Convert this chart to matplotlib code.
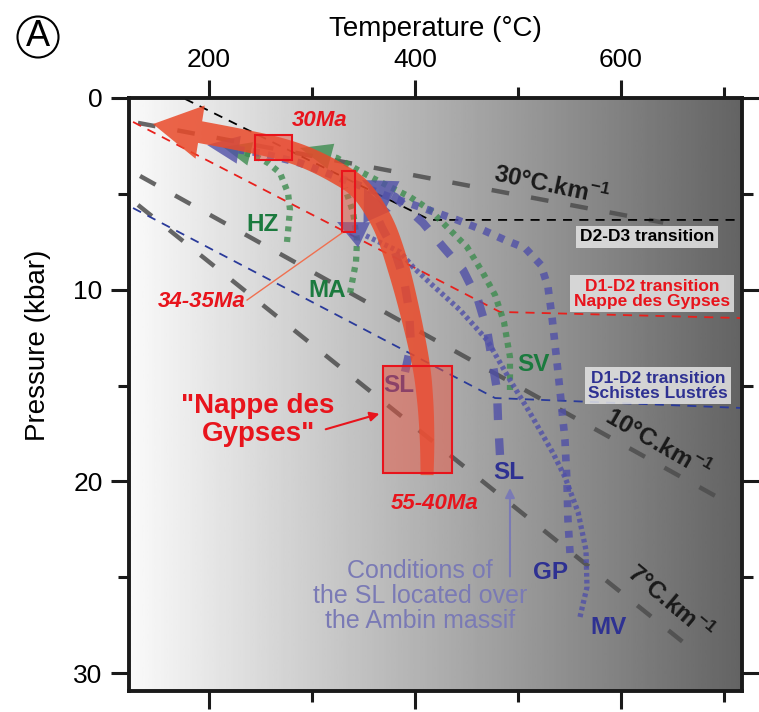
import numpy as np
import matplotlib
matplotlib.use("Agg")
import matplotlib.pyplot as plt
from matplotlib.patches import Polygon, Rectangle, Ellipse

plt.rcParams['font.family'] = ['Liberation Sans', 'DejaVu Sans']
plt.rcParams['mathtext.fontset'] = 'custom'
plt.rcParams['mathtext.rm'] = 'Liberation Sans'
plt.rcParams['mathtext.bf'] = 'Liberation Sans:bold'

# ---- values: temperature (degC), pressure (kbar) ----
geo_30_T = [131, 641]
geo_30_P = [1.3, 6.5]
geo_10_T = [133, 693]
geo_10_P = [4.07, 20.8]
geo_7_T = [131, 670]
geo_7_P = [5.58, 28.8]

# deformation transitions
d2d3_T = [176.7, 414.6, 717.5]
d2d3_P = [0.05, 6.36, 6.36]
d1d2_ng_T = [126.2, 482.5, 717.5]
d1d2_ng_P = [1.25, 11.16, 11.48]
d1d2_sl_T = [126.2, 477.7, 717.5]
d1d2_sl_P = [5.74, 15.65, 16.17]

# "Nappe des Gypses" P-T path, from peak to arrow tip
ng_T = [411.7, 411.7, 409.8, 405.0, 392.2, 378.6, 366.0, 346.6, 324.3, 295.2, 266.1, 231.0, 191.3, 145.6]
ng_P = [19.67, 17.84, 15.75, 13.67, 10.54, 7.93, 6.26, 4.75, 3.91, 3.13, 2.61, 2.19, 1.78, 1.36]

# other units (last point = arrow tip)
hz_T = [275.7, 278.6, 276.7, 268.9, 257.3, 246.6, 233.0, 213.6]
hz_P = [7.51, 5.84, 4.96, 3.91, 3.39, 3.08, 2.82, 2.56]
ma_T = [336.9, 342.7, 343.7, 339.8, 332.0]
ma_P = [10.17, 8.55, 7.41, 5.95, 4.69]
sv_T = [492.2, 492.2, 486.4, 477.7, 466.0, 450.5, 434.0, 414.6, 395.1, 375.7, 349.5, 324.3, 288.3]
sv_P = [15.23, 13.51, 11.69, 10.28, 9.13, 7.77, 6.89, 5.84, 5.16, 4.64, 3.91, 3.13, 2.61]
sl_amb_T = [482.5, 480.6, 479.6, 474.8, 469.9, 461.2, 446.6, 427.2, 407.8, 380.6, 348.5]
sl_amb_P = [18.62, 16.80, 15.23, 13.67, 12.10, 10.54, 8.97, 7.77, 6.52, 5.16, 4.28]
sl_ng_T = [390.3, 396.1, 394.2, 389.3, 380.6, 368.0, 350.5]
sl_ng_P = [14.29, 12.88, 11.06, 9.49, 8.03, 6.78, 4.69]
gp_T = [550.5, 548.5, 547.6, 545.6, 541.7, 537.9, 533.0, 529.1, 522.3, 506.8, 487.4, 466.0, 440.8,
        404.9, 372.8, 336.9, 288.3, 249.5, 198.1]
gp_P = [23.73, 22.01, 20.08, 17.84, 15.75, 13.82, 11.42, 9.86, 8.71, 7.82, 7.41, 6.89, 6.36,
        5.69, 5.11, 4.38, 3.39, 2.87, 2.45]
mv_T = [560.2, 567.0, 566.0, 558.3, 545.6, 534.0, 511.7, 492.2, 469.9, 443.7, 414.6, 398.1, 385.4, 324.3]
mv_P = [27.07, 25.51, 23.58, 21.60, 19.77, 18.52, 16.43, 14.71, 12.62, 11.06, 9.65, 8.82, 8.03, 6.47]

# age boxes (Tmin, Tmax, Pmin, Pmax)
box_30 = (244.7, 280.6, 1.93, 3.23)
box_34 = (329.0, 341.7, 3.8, 7.0)
box_55 = (369.0, 436.0, 14.0, 19.56)

RED = '#e8141c'
GREEN = '#3d8c4f'
GREEN_TXT = '#1b7a3e'
BLUE = '#5050a8'
NAVY = '#2e3192'
LAV = '#7a7ab5'


def tip_head(ax, T, P, length, half, color, alpha, z):
    # triangle at the end of a path, returns line coords stopping at its base
    pts = ax.transData.transform(np.column_stack([T, P]))
    d = pts[-1] - pts[-2]
    d /= np.hypot(*d)
    n = np.array([-d[1], d[0]])
    base = pts[-1] - d * length
    tri = np.array([pts[-1], base + n * half, base - n * half])
    tri = ax.transData.inverted().transform(tri)
    ax.add_patch(Polygon(tri, closed=True, fc=color, ec='none', alpha=alpha, zorder=z))
    line = np.vstack([pts[:-1], base])
    return ax.transData.inverted().transform(line)


def rounded(pts, n=10):
    # catmull-rom outline through the read points (display space), only for the arrow shape
    p = np.vstack([pts[0], pts, pts[-1]])
    out = []
    for i in range(1, len(p) - 2):
        p0, p1, p2, p3 = p[i - 1], p[i], p[i + 1], p[i + 2]
        for t in np.linspace(0, 1, n, endpoint=False):
            out.append(0.5 * (2 * p1 + (p2 - p0) * t + (2 * p0 - 5 * p1 + 4 * p2 - p3) * t ** 2
                              + (3 * p1 - p0 - 3 * p2 + p3) * t ** 3))
    out.append(p[-2])
    return np.array(out)


def big_arrow(ax, T, P, w0, w1, head_w, color, alpha, z):
    pts = ax.transData.transform(np.column_stack([T, P]))
    body, tip = rounded(pts[:-1]), pts[-1]
    seg = np.diff(body, axis=0)
    tang = np.zeros_like(body)
    tang[1:-1] = body[2:] - body[:-2]
    tang[0], tang[-1] = seg[0], seg[-1]
    tang /= np.linalg.norm(tang, axis=1)[:, None]
    nrm = np.column_stack([-tang[:, 1], tang[:, 0]])
    s = np.concatenate([[0], np.cumsum(np.linalg.norm(seg, axis=1))])
    w = np.interp(s / s[-1], [0, 0.45, 1], [w0, w1, w1])
    left = body + nrm * w[:, None]
    right = body - nrm * w[:, None]
    d = tip - body[-1]
    d /= np.hypot(*d)
    n = np.array([-d[1], d[0]])
    head = [body[-1] + n * head_w, tip, body[-1] - n * head_w]
    verts = np.vstack([left, head, right[::-1]])
    verts = ax.transData.inverted().transform(verts)
    ax.add_patch(Polygon(verts, closed=True, fc=color, ec='none', alpha=alpha, zorder=z))


fig = plt.figure(figsize=(7.59, 7.12), dpi=100)
ax = fig.add_axes([0.170, 0.0295, 0.8076, 0.8329])
ax.set_xlim(122.3, 717.5)
ax.set_ylim(30.93, 0)

# background gradient
grad = np.linspace(0.98, 0.39, 256)[None, :]
ax.imshow(grad, cmap='gray', vmin=0, vmax=1, extent=(122.3, 717.5, 30.93, 0),
          aspect='auto', zorder=0)

# geotherms
for T, P in [(geo_30_T, geo_30_P), (geo_10_T, geo_10_P), (geo_7_T, geo_7_P)]:
    ax.plot(T, P, color='#4d4d4d', lw=3.2, ls=(0, (4, 5)), alpha=0.85, zorder=1)

ax.plot(d2d3_T, d2d3_P, color='black', lw=1.3, ls=(0, (5, 4)), zorder=2)
ax.plot(d1d2_ng_T, d1d2_ng_P, color='#e8201c', lw=1.3, ls=(0, (5, 4)), zorder=2)
ax.plot(d1d2_sl_T, d1d2_sl_P, color='#2a3a9a', lw=1.3, ls=(0, (5, 4)), zorder=2)

# green paths
ln = tip_head(ax, hz_T, hz_P, 28, 12, GREEN, 0.8, 3)
ax.plot(ln[:, 0], ln[:, 1], color=GREEN, lw=4.5, ls=(0, (0.8, 0.9)), alpha=0.8, zorder=3)
ax.plot(ma_T, ma_P, color=GREEN, lw=4.5, ls=(0, (0.8, 0.9)), alpha=0.8, zorder=3)
ln = tip_head(ax, sv_T, sv_P, 32, 13, GREEN, 0.8, 3)
ax.plot(ln[:, 0], ln[:, 1], color=GREEN, lw=4.5, ls=(0, (0.8, 0.9)), alpha=0.8, zorder=3)

# blue paths
ln = tip_head(ax, sl_amb_T, sl_amb_P, 34, 16, BLUE, 0.8, 3)
ax.plot(ln[:, 0], ln[:, 1], color=BLUE, lw=6, ls=(0, (2, 2.2)), alpha=0.8, zorder=3)
ln = tip_head(ax, sl_ng_T, sl_ng_P, 32, 15, BLUE, 0.8, 3)
ax.plot(ln[:, 0], ln[:, 1], color=BLUE, lw=6, ls=(0, (2, 2.2)), alpha=0.8, zorder=3)
ln = tip_head(ax, gp_T, gp_P, 32, 14, BLUE, 0.8, 3)
ax.plot(ln[:, 0], ln[:, 1], color=BLUE, lw=5.5, ls=(0, (0.9, 1.1)), alpha=0.8, zorder=3)
ln = tip_head(ax, mv_T, mv_P, 30, 14, BLUE, 0.8, 3)
ax.plot(ln[:, 0], ln[:, 1], color=BLUE, lw=3.8, ls=(0, (0.7, 0.6)), alpha=0.8, zorder=3)

# Nappe des Gypses arrow
big_arrow(ax, ng_T, ng_P, 6.5, 11, 27, '#ea4a2a', 0.85, 4)

# age boxes
for t0, t1, p0, p1 in [box_30, box_34, box_55]:
    ax.add_patch(Rectangle((t0, p0), t1 - t0, p1 - p0, fc=(0.91, 0.33, 0.25, 0.5),
                           ec=RED, lw=1.5, zorder=5))

# labels
lab = dict(fontweight='bold', ha='center', va='center', zorder=6)
ax.text(307.8, 1.15, '30Ma', color=RED, fontsize=16, style='italic', **lab)
ax.text(193.2, 10.64, '34-35Ma', color=RED, fontsize=16, style='italic', **lab)
ax.text(419.4, 21.13, '55-40Ma', color=RED, fontsize=16, style='italic', **lab)
ax.text(247.6, 16.8, '"Nappe des\nGypses"', color=RED, fontsize=20, linespacing=1.1, **lab)
ax.annotate('', xy=(368, 16.43), xytext=(310.7, 17.32), zorder=6,
            arrowprops=dict(arrowstyle='-|>', color=RED, lw=1.5, mutation_scale=14))
ax.plot([236.9, 329.1], [10.54, 7.04], color='#f07050', lw=1, zorder=6)

ax.text(252.4, 6.62, 'HZ', color=GREEN_TXT, fontsize=17.5, **lab)
ax.text(314.6, 10.02, 'MA', color=GREEN_TXT, fontsize=17.5, **lab)
ax.text(515.5, 13.88, 'SV', color=GREEN_TXT, fontsize=17.5, **lab)
sl_in = dict(lab)
sl_in['zorder'] = 4.5
ax.text(384.5, 15.02, 'SL', color=NAVY, fontsize=17.5, **sl_in)
ax.text(491.3, 19.51, 'SL', color=NAVY, fontsize=17.5, **lab)
ax.text(532.0, 24.73, 'GP', color=NAVY, fontsize=17.5, **lab)
ax.text(587.4, 27.6, 'MV', color=NAVY, fontsize=17.5, **lab)

ax.text(404.9, 25.98, 'Conditions of\nthe SL located over\nthe Ambin massif', color=LAV,
        fontsize=18, ha='center', va='center', linespacing=1.05, zorder=6)
ax.annotate('', xy=(492.2, 20.2), xytext=(492.2, 25.1), zorder=6,
            arrowprops=dict(arrowstyle='-|>', color=LAV, lw=1.5, mutation_scale=14))

geo = dict(fontweight='bold', color='#1a1a1a', fontsize=17.5, ha='center', va='center', zorder=6)
ax.text(532.0, 4.54, r'30°C.km$^{\mathbf{-1}}$', rotation=-12, **geo)
ax.text(635.9, 18.0, r'10°C.km$^{\mathbf{-1}}$', rotation=-30, **geo)
ax.text(647.6, 26.3, r'7°C.km$^{\mathbf{-1}}$', rotation=-40, **geo)

bx = dict(boxstyle='square,pad=0.2', fc='#e4e4e4', ec='none', alpha=0.85)
tr = dict(fontweight='bold', fontsize=12.5, ha='center', va='center', linespacing=1.0, zorder=6, bbox=bx)
ax.text(625.2, 7.25, 'D2-D3 transition', color='black', **tr)
ax.text(630.1, 10.22, 'D1-D2 transition\nNappe des Gypses', color=RED, **tr)
ax.text(635.9, 15.02, 'D1-D2 transition\nSchistes Lustrés', color=NAVY, **tr)

# axes styling
ax.set_xticks([200, 400, 600])
ax.set_xticks([300, 500, 700], minor=True)
ax.set_yticks([0, 10, 20, 30])
ax.set_yticks([5, 15, 25], minor=True)
ax.tick_params(which='both', direction='out', top=True, bottom=True, left=True, right=True,
               labeltop=True, labelbottom=False, width=2.2, color='#1a1a1a', labelsize=19, pad=6)
ax.tick_params(which='major', length=13)
ax.tick_params(which='minor', length=8)
for sp in ax.spines.values():
    sp.set_linewidth(2.8)
    sp.set_color('#1a1a1a')
ax.xaxis.set_label_position('top')
ax.set_xlabel('Temperature (°C)', fontsize=20, labelpad=8)
ax.set_ylabel('Pressure (kbar)', fontsize=20)
ax.yaxis.set_label_coords(-0.128, 0.583)

# circled panel letter
fig.add_artist(Ellipse((38 / 759, 1 - 37 / 712), 41 / 759, 41 / 712, transform=fig.transFigure,
                       fc='none', ec='black', lw=1.5))
fig.text(38 / 759, 1 - 37 / 712, 'A', fontsize=26, ha='center', va='center')

fig.savefig('out.png', dpi=100)
